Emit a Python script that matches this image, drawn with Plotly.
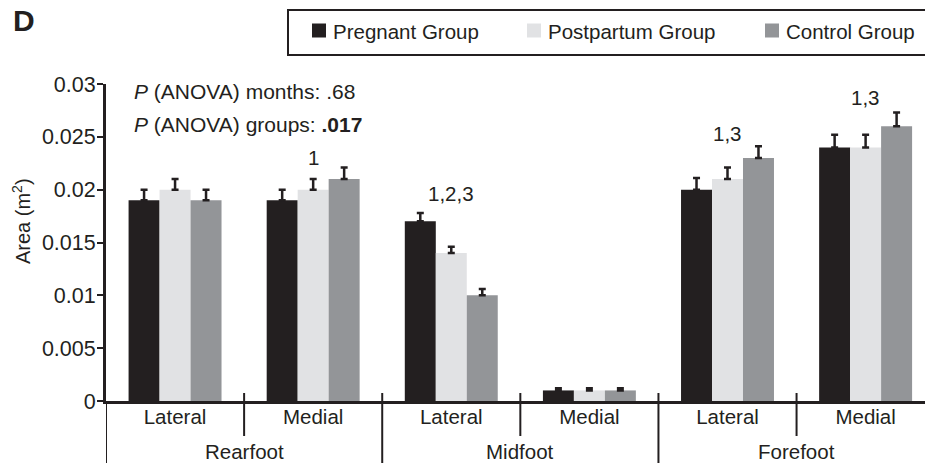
import plotly.graph_objects as go

# ---------------- data ----------------
subregions = ["Lateral", "Medial", "Lateral", "Medial", "Lateral", "Medial"]
regions = ["Rearfoot", "Midfoot", "Forefoot"]
groups = ["Pregnant Group", "Postpartum Group", "Control Group"]

pregnant = [0.019, 0.019, 0.017, 0.001, 0.020, 0.024]
postpartum = [0.020, 0.020, 0.014, 0.001, 0.021, 0.024]
control = [0.019, 0.021, 0.010, 0.001, 0.023, 0.026]

pregnant_err = [0.0010, 0.0010, 0.0008, 0.0002, 0.0011, 0.0012]
postpartum_err = [0.0010, 0.0010, 0.0006, 0.0002, 0.0011, 0.0012]
control_err = [0.0010, 0.0011, 0.0006, 0.0002, 0.0011, 0.0013]

sig_labels = ["", "1", "1,2,3", "", "1,3", "1,3"]

y_ticks = [0, 0.005, 0.01, 0.015, 0.02, 0.025, 0.03]
y_ticktext = ["0", "0.005", "0.01", "0.015", "0.02", "0.025", "0.03"]

colors = ["#231f20", "#e1e2e4", "#939598"]
INK = "#231f20"
FONT = "Liberation Sans, Arial, Helvetica, sans-serif"

# ---------------- geometry helpers ----------------
W, H = 925, 463
ML, MR, MT, MB = 106, 0, 84, 62
PW, PH = W - ML - MR, H - MT - MB


def px(xpix):
    return (xpix - ML) / PW


def py(ypix):
    return (H - MB - ypix) / PH


# vertical centre (in pixels) of each significance label, layout only
sig_label_ypix = [None, 157, 193, None, 133, 98]

xs = list(range(len(subregions)))

fig = go.Figure()
series = [pregnant, postpartum, control]
errs = [pregnant_err, postpartum_err, control_err]
for name, vals, err, col in zip(groups, series, errs, colors):
    fig.add_trace(go.Bar(
        x=xs, y=vals, name=name, marker=dict(color=col, line=dict(width=0)),
        error_y=dict(type="data", array=err, arrayminus=[0] * len(err),
                     symmetric=False, color=INK, thickness=2.5, width=3.5),
        showlegend=False,
    ))

annotations = []
for i, lab in enumerate(sig_labels):
    if lab:
        annotations.append(dict(x=i, y=py(sig_label_ypix[i]), xref="x", yref="paper", text=lab,
                                showarrow=False, yanchor="middle",
                                font=dict(size=20.5, color=INK, family=FONT)))

# region labels
for k, r in enumerate(regions):
    annotations.append(dict(x=2 * k + 0.5, y=py(452), xref="x", yref="paper", text=r,
                            showarrow=False, yanchor="middle", xanchor="center",
                            font=dict(size=20.5, color=INK, family=FONT)))

# ANOVA texts
annotations.append(dict(x=px(132), y=py(92), xref="paper", yref="paper",
                        text="<i>P</i> (ANOVA) months: .68", showarrow=False,
                        xanchor="left", yanchor="middle",
                        font=dict(size=21, color=INK, family=FONT)))
annotations.append(dict(x=px(132), y=py(124), xref="paper", yref="paper",
                        text="<i>P</i> (ANOVA) groups: <b>.017</b>", showarrow=False,
                        xanchor="left", yanchor="middle",
                        font=dict(size=21, color=INK, family=FONT)))

# y-axis title
annotations.append(dict(x=px(21), y=py(221), xref="paper", yref="paper",
                        text="Area (m<sup>2</sup>)", showarrow=False, textangle=-90,
                        xanchor="center", yanchor="middle",
                        font=dict(size=20, color=INK, family=FONT)))

# panel letter
annotations.append(dict(x=px(11), y=py(21), xref="paper", yref="paper",
                        text="<b>D</b>", showarrow=False, xanchor="left", yanchor="middle",
                        font=dict(size=30, color=INK, family=FONT)))

shapes = []
# separators
for j in range(len(subregions) - 1):
    xb = j + 0.5
    if j % 2 == 0:
        shapes.append(dict(type="line", xref="x", yref="paper", x0=xb, x1=xb,
                           y0=py(393), y1=py(436), line=dict(color=INK, width=2)))
    else:
        shapes.append(dict(type="line", xref="x", yref="paper", x0=xb, x1=xb,
                           y0=py(393), y1=py(470), line=dict(color=INK, width=2)))
shapes.append(dict(type="line", xref="x", yref="paper", x0=-0.5, x1=-0.5,
                   y0=py(401), y1=py(470), line=dict(color=INK, width=2)))

# manual legend
shapes.append(dict(type="rect", xref="paper", yref="paper", x0=px(288), x1=px(935),
                   y0=py(55), y1=py(10), line=dict(color=INK, width=2),
                   fillcolor="rgba(0,0,0,0)"))
leg_sq = [312, 527, 765]
for xs0, name, col in zip(leg_sq, groups, colors):
    shapes.append(dict(type="rect", xref="paper", yref="paper", x0=px(xs0), x1=px(xs0 + 14),
                       y0=py(37.5), y1=py(23.5), line=dict(width=0), fillcolor=col))
    annotations.append(dict(x=px(xs0 + 19), y=py(32), xref="paper", yref="paper", text=name,
                            showarrow=False, xanchor="left", yanchor="middle",
                            font=dict(size=20.5, color=INK, family=FONT)))

fig.update_layout(
    width=W, height=H,
    margin=dict(l=ML, r=MR, t=MT, b=MB, pad=0),
    paper_bgcolor="white", plot_bgcolor="white",
    barmode="group", bargap=0.327, bargroupgap=0,
    font=dict(family=FONT, size=20, color=INK),
    annotations=annotations, shapes=shapes,
    xaxis=dict(range=[-0.5, 5.43], tickmode="array", tickvals=xs, ticktext=subregions,
               showgrid=False, zeroline=False, showline=True, linecolor=INK, linewidth=3,
               ticks="", ticklabelstandoff=-5,
               tickfont=dict(size=20.5, color=INK, family=FONT)),
    yaxis=dict(range=[0, 0.03], tickmode="array", tickvals=y_ticks, ticktext=y_ticktext,
               showgrid=False, zeroline=False, showline=True, linecolor=INK, linewidth=3,
               ticks="outside", ticklen=6, tickwidth=2, tickcolor=INK,
               ticklabelstandoff=-3,
               tickfont=dict(size=21.5, color=INK, family=FONT)),
)

fig.write_html("out.html", config={"displayModeBar": False},
               post_script="document.body.style.margin='0';document.body.style.overflow='hidden';")
